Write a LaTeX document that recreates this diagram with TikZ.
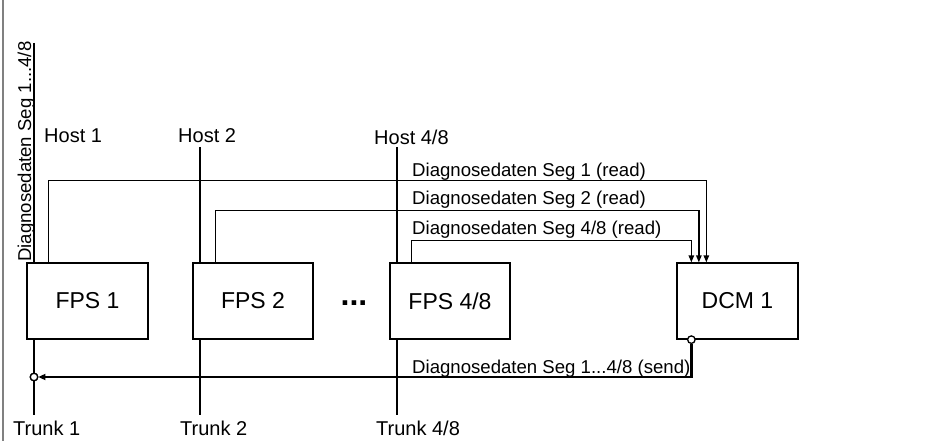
\documentclass[tikz,border=0pt]{standalone}
\usepackage{fontspec}
\setmainfont{Liberation Sans}
\usetikzlibrary{arrows.meta}
\begin{document}
\begin{tikzpicture}[x=1pt,y=-1pt,
  lbl/.style={font=\fontsize{20}{23}\selectfont, inner sep=0pt, anchor=base west},
  rlbl/.style={font=\fontsize{18.6}{22}\selectfont, inner sep=0pt, anchor=base west},
  unit/.style={draw, fill=white, line width=1.3pt, minimum width=121pt, minimum height=76pt,
               font=\fontsize{23}{26}\selectfont, inner sep=0pt},
  bus/.style={line width=2.4pt},
  rd/.style={line width=1.3pt, -{Triangle[length=7pt,width=5.5pt]}},
  port/.style={circle, draw, fill=white, line width=1.3pt, minimum size=7.5pt, inner sep=0pt},
]
\useasboundingbox (0,0) rectangle (938,441);
\fill[gray] (1.5,0) rectangle (4,441);

% bus coordinates
\coordinate (h1) at (34,43);   \coordinate (t1) at (34,415);
\coordinate (h2) at (200,147); \coordinate (t2) at (200,415);
\coordinate (h3) at (397,147); \coordinate (t3) at (397,415);

\draw[bus] (h1) -- (t1);
\draw[bus] (h2) -- (t2);
\draw[bus] (h3) -- (t3);

% units
\node[unit] (fps1) at (87.5,301) {FPS 1};
\node[unit, minimum width=120pt] (fps2) at (253,301) {FPS 2};
\node[unit, minimum width=120pt] (fps3) at (450,301) {FPS 4/8};
\node[unit] (dcm) at (737.5,301) {DCM 1};

% read connections
\draw[rd] ([xshift=22pt]fps1.north west) -- ++(0,-82) -| ([xshift=30pt]dcm.north west);
\draw[rd] ([xshift=23pt]fps2.north west) -- ++(0,-52) -| ([xshift=22.5pt]dcm.north west);
\draw[rd] ([xshift=22pt]fps3.north west) -- ++(0,-22) -| ([xshift=15pt]dcm.north west);

% send connection
\node[port] (c1) at (34,377) {};
\node[port] (c2) at ([xshift=15pt]dcm.south west) {};
\draw[bus, -{Triangle[length=7pt,width=6pt]}] (c2.south) |- (c1.east);
\node[port] at (c1) {};

% labels
\node[rlbl, rotate=90] (lseg) at (31,262) {Diagnosedaten Seg 1...4/8};
\node[lbl] (lh1) at (44,143) {Host 1};
\node[lbl] (lh2) at (178,143) {Host 2};
\node[lbl] (lh3) at (374,145) {Host 4/8};
\node[lbl] (lt1) at (13,435) {Trunk 1};
\node[lbl] (lt2) at (180,435) {Trunk 2};
\node[lbl] (lt3) at (376,435) {Trunk 4/8};
\node[rlbl] (lr1) at (412,177) {Diagnosedaten Seg 1 (read)};
\node[rlbl] (lr2) at (412,205) {Diagnosedaten Seg 2 (read)};
\node[rlbl] (lr3) at (412,235) {Diagnosedaten Seg 4/8 (read)};
\node[rlbl] (ls) at (412,373) {Diagnosedaten Seg 1...4/8 (send)};
\node[inner sep=0pt, anchor=base, font=\fontsize{32}{34}\selectfont\bfseries] (dots) at (354,305) {...};
\end{tikzpicture}
\end{document}
